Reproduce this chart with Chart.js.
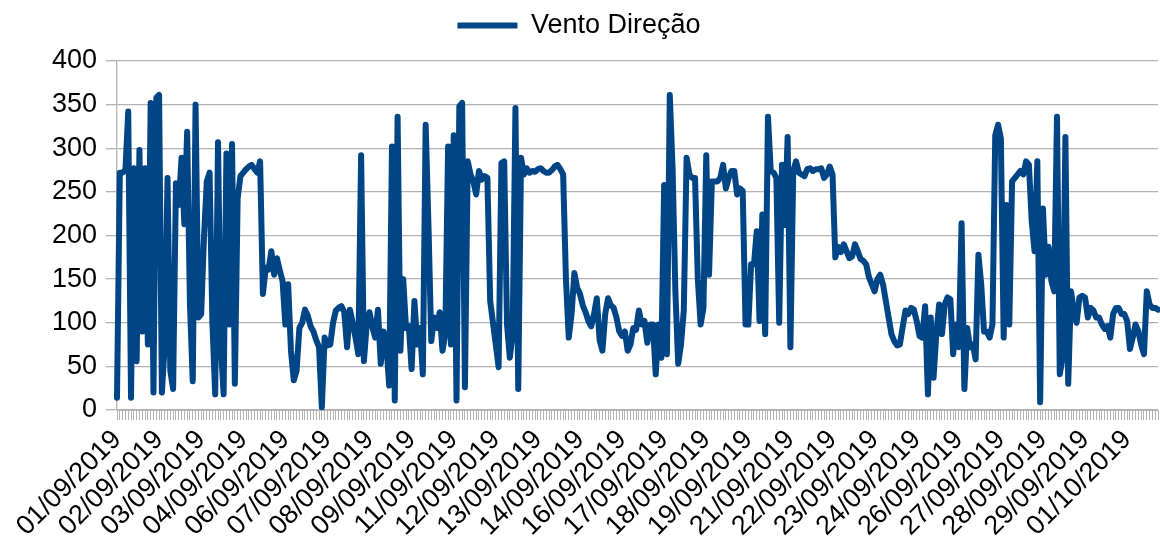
<!DOCTYPE html>
<html>
<head>
<meta charset="utf-8">
<script src="https://cdn.jsdelivr.net/npm/chart.js@4/dist/chart.umd.min.js"></script>
<style>
  html, body { margin: 0; padding: 0; background: #fff; }
  #wrap { width: 1160px; height: 547px; position: relative; }
</style>
</head>
<body>
<div id="wrap"><canvas id="windChart"></canvas></div>
<script>
// wind direction readings, one every 2 hours from 01/09/2019 00:00
const dir01to07 = [
  14, 272, 272, 275, 342, 14, 277, 56, 298, 90,
  277, 75, 352, 20, 358, 361, 20, 75, 266, 45,
  24, 260, 235, 289, 213, 319, 121, 33, 350, 106,
  110, 198, 262, 272, 100, 18, 307, 75, 18, 294,
  98, 305, 30, 243, 268, 272, 276, 279, 281, 276,
  272, 285, 133, 163, 161, 182, 155, 174, 160, 148,
  98, 144, 68, 34, 45, 94, 100, 115, 108, 96,
  90, 80, 72, 3, 83
];
const dir07to13 = [
  74, 75, 100, 114, 117, 119, 112, 72, 115, 100,
  83, 64, 292, 56, 98, 112, 95, 83, 115, 53,
  90, 75, 28, 302, 11, 336, 68, 150, 94, 96,
  47, 125, 75, 94, 41, 327, 212, 79, 106, 94,
  112, 68, 87, 302, 75, 315, 11, 348, 352, 26,
  285, 270, 262, 247, 274, 264, 268, 266, 125, 100,
  75, 49, 283, 285, 98, 60, 87, 346, 24, 289,
  270, 277, 272, 274, 273
];
const dir13to19 = [
  276, 277, 274, 272, 272, 275, 279, 281, 276, 270,
  150, 83, 110, 157, 140, 133, 120, 112, 102, 96,
  110, 128, 80, 68, 110, 128, 120, 117, 106, 90,
  85, 90, 68, 75, 94, 92, 114, 98, 102, 77,
  98, 98, 41, 98, 60, 258, 64, 361, 277, 136,
  53, 75, 114, 289, 270, 266, 266, 150, 98, 117,
  292, 155, 262, 262, 262, 266, 281, 254, 266, 274,
  274, 247, 254, 251, 98
];
const dir19to26 = [
  98, 167, 167, 205, 102, 224, 87, 336, 274, 272,
  266, 100, 281, 212, 313, 72, 274, 285, 272, 270,
  268, 276, 277, 274, 276, 276, 277, 266, 270, 279,
  270, 175, 187, 181, 190, 182, 174, 176, 190, 182,
  173, 171, 167, 152, 144, 136, 150, 155, 144, 125,
  106, 87, 79, 74, 75, 95, 114, 110, 117, 115,
  102, 85, 83, 119, 18, 106, 37, 87, 121, 87,
  121, 129, 127, 64, 98
];
const dir26to01 = [
  72, 214, 24, 94, 72, 75, 58, 178, 144, 90,
  90, 83, 98, 315, 327, 311, 83, 235, 98, 262,
  266, 270, 274, 270, 285, 281, 216, 182, 285, 9,
  231, 155, 187, 148, 136, 336, 41, 60, 313, 30,
  136, 114, 100, 129, 131, 129, 106, 117, 114, 106,
  106, 98, 93, 96, 83, 110, 117, 117, 110, 110,
  102, 70, 83, 98, 90, 75, 64, 136, 121, 117,
  117, 115
];
const ventoDirecao = [].concat(dir01to07, dir07to13, dir13to19, dir19to26, dir26to01);

// dates written under the axis, one every 15 readings (30 h)
const tickDates = [
  "01/09/2019", "02/09/2019", "03/09/2019", "04/09/2019", "06/09/2019",
  "07/09/2019", "08/09/2019", "09/09/2019", "11/09/2019", "12/09/2019",
  "13/09/2019", "14/09/2019", "16/09/2019", "17/09/2019", "18/09/2019",
  "19/09/2019", "21/09/2019", "22/09/2019", "23/09/2019", "24/09/2019",
  "26/09/2019", "27/09/2019", "28/09/2019", "29/09/2019", "01/10/2019"
];
const labelEvery = 15;

const pad = n => String(n).padStart(2, "0");
const times = ventoDirecao.map((_, i) => {
  const d = new Date(2019, 8, 1, i * 2);
  return `${pad(d.getDate())}/${pad(d.getMonth() + 1)}/${d.getFullYear()} ${pad(d.getHours())}:00`;
});

const blue = "#004586";
const grey = "#b3b3b3";
Chart.defaults.font.family = "'Liberation Sans', Arial, sans-serif";
Chart.defaults.color = "#000";

// a bit more room between the legend and the plot
const legendGap = {
  id: "legendGap",
  beforeInit(chart) {
    const fit = chart.legend.fit;
    chart.legend.fit = function () {
      fit.call(this);
      this.height += 12;
    };
  }
};

new Chart(document.getElementById("windChart"), {
  type: "line",
  data: {
    labels: times,
    datasets: [{
      label: "Vento Direção",
      data: ventoDirecao,
      borderColor: blue,
      backgroundColor: blue,
      borderWidth: 6,
      borderJoinStyle: "round",
      borderCapStyle: "round",
      pointRadius: 0,
      tension: 0,
      fill: false
    }]
  },
  plugins: [legendGap],
  options: {
    responsive: true,
    maintainAspectRatio: false,
    devicePixelRatio: 1,
    animation: false,
    layout: { padding: { top: 2, right: 2, left: 0, bottom: 0 } },
    plugins: {
      tooltip: { enabled: false },
      legend: {
        display: true,
        position: "top",
        labels: {
          boxWidth: 60,
          boxHeight: 6,
          padding: 10,
          font: { size: 27 },
          generateLabels: chart => {
            const items = Chart.defaults.plugins.legend.labels.generateLabels(chart);
            items.forEach(it => { it.lineWidth = 0; });
            return items;
          }
        }
      }
    },
    scales: {
      x: {
        grid: {
          drawOnChartArea: false,
          drawTicks: true,
          tickLength: 10,
          color: grey
        },
        border: { color: grey },
        ticks: {
          autoSkip: false,
          maxRotation: 45,
          minRotation: 45,
          padding: 4,
          font: { size: 27 },
          callback: (val, idx) => idx % labelEvery === 0 ? (tickDates[idx / labelEvery] || "") : ""
        },
        afterFit: scale => {
          scale.height = 137;
          scale.paddingLeft = 0;
          scale.paddingRight = 0;
        }
      },
      y: {
        min: 0,
        max: 400,
        grid: { color: grey, lineWidth: 1.3, tickLength: 11 },
        border: { color: grey, width: 1.3 },
        ticks: { stepSize: 50, padding: 9, font: { size: 27 } },
        afterFit: scale => { scale.width = 117; }
      }
    }
  }
});
</script>
</body>
</html>
